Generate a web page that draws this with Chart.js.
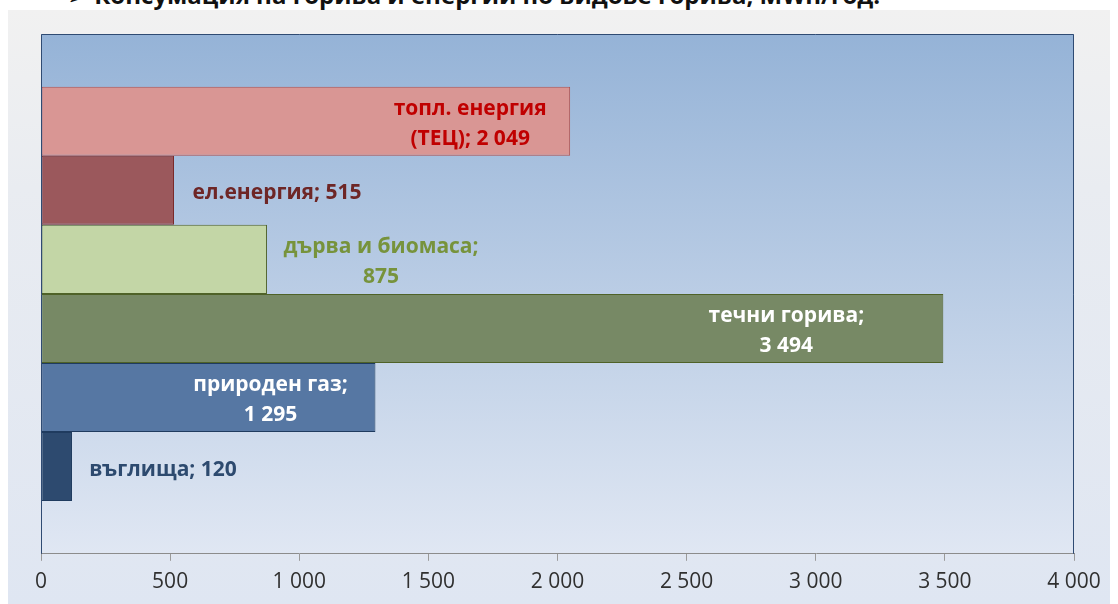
<!DOCTYPE html>
<html>
<head>
<meta charset="utf-8">
<script src="https://cdn.jsdelivr.net/npm/chart.js@4.4.1/dist/chart.umd.min.js"></script>
<style>
  html, body { margin: 0; padding: 0; background: #fff; width: 1118px; height: 604px; overflow: hidden; }
  #title {
    position: absolute; left: 68px; top: -22px; white-space: nowrap;
    font: bold 24px "Open Sans", "Noto Sans", sans-serif; color: #111;
  }
  #box {
    position: absolute; left: 8px; top: 10px; width: 1102px; height: 594px;
    background: linear-gradient(#f1f1f1 0%, #e9ecf1 30%, #dfe6f2 100%);
  }
</style>
</head>
<body>
<div id="title">➢&nbsp;Консумация на горива и енергии по видове горива, MWh/год.</div>
<div id="box"><canvas id="chart" width="1102" height="594"></canvas></div>
<script>
// Данни (MWh/год.)
const seriesNames = ['топл. енергия (ТЕЦ)', 'ел.енергия', 'дърва и биомаса', 'течни горива', 'природен газ', 'въглища'];
const seriesValues = [2049, 515, 875, 3494, 1295, 120];
// редове на етикетите (как са пренесени в оригинала)
const labelLines = [
  ['топл. енергия', '(ТЕЦ); {v}'],
  ['ел.енергия; {v}'],
  ['дърва и биомаса;', '{v}'],
  ['течни горива;', '{v}'],
  ['природен газ;', '{v}'],
  ['въглища; {v}']
];
const xTicks = [0, 500, 1000, 1500, 2000, 2500, 3000, 3500, 4000];

// стилове
const fills   = ['#d99694', '#9b585c', '#c3d6a6', '#778965', '#5677a3', '#2d4a6f'];
const borders = ['#b0504d', '#7a2a2a', '#4f6228', '#4f6228', '#1f3b5f', '#1f3b5f'];
const labelColors = ['#c00000', '#6e2626', '#77933c', '#ffffff', '#ffffff', '#2d4a6f'];
const labelDx = [-100, 103, 114, -157, -105, 91];   // център на етикета спрямо края на стълба

function fmt(v) {
  return String(v).replace(/\B(?=(\d{3})+(?!\d))/g, ' ');
}

const plotBg = {
  id: 'plotBg',
  beforeDraw(chart) {
    const { ctx, chartArea: a } = chart;
    const g = ctx.createLinearGradient(0, a.top, 0, a.bottom);
    g.addColorStop(0, '#95b3d7');
    g.addColorStop(1, '#e0e7f3');
    ctx.save();
    ctx.fillStyle = g;
    ctx.fillRect(a.left, a.top, a.right - a.left, a.bottom - a.top);
    ctx.restore();
  },
  afterDatasetsDraw(chart) {
    const { ctx, chartArea: a } = chart;
    ctx.save();
    ctx.strokeStyle = '#2f4b73';
    ctx.lineWidth = 1;
    ctx.beginPath();
    ctx.moveTo(a.left + 0.5, a.bottom);
    ctx.lineTo(a.left + 0.5, a.top + 0.5);
    ctx.lineTo(a.right - 0.5, a.top + 0.5);
    ctx.lineTo(a.right - 0.5, a.bottom);
    ctx.stroke();
    ctx.restore();
  }
};

const barLabels = {
  id: 'barLabels',
  afterDatasetsDraw(chart) {
    const ctx = chart.ctx;
    ctx.save();
    ctx.font = 'bold 21px "Open Sans", "Noto Sans", sans-serif';
    ctx.textAlign = 'center';
    ctx.textBaseline = 'middle';
    chart.data.datasets.forEach((ds, i) => {
      const bar = chart.getDatasetMeta(i).data[0];
      const lines = labelLines[i].map(s => s.replace('{v}', fmt(ds.data[0])));
      const lh = 30;
      const y0 = bar.y + 3 - (lines.length - 1) * lh / 2;
      ctx.fillStyle = labelColors[i];
      lines.forEach((t, k) => ctx.fillText(t, bar.x + labelDx[i], y0 + k * lh));
    });
    ctx.restore();
  }
};

new Chart(document.getElementById('chart'), {
  type: 'bar',
  data: {
    labels: [''],
    datasets: seriesNames.map((n, i) => ({
      label: n,
      data: [seriesValues[i]],
      backgroundColor: fills[i],
      borderColor: borders[i],
      borderWidth: 1,
      borderSkipped: false,
      categoryPercentage: 0.797,
      barPercentage: 1
    }))
  },
  options: {
    indexAxis: 'y',
    responsive: false,
    animation: false,
    layout: { padding: { left: 33, right: 36, top: 24, bottom: 0 } },
    plugins: { legend: { display: false }, tooltip: { enabled: false }, title: { display: false } },
    scales: {
      y: { display: false },
      x: {
        min: 0, max: 4000,
        afterBuildTicks(axis) { axis.ticks = xTicks.map(v => ({ value: v })); },
        grid: { drawOnChartArea: false, drawTicks: true, tickLength: 7, color: '#9a9a9a' },
        border: { display: true, color: '#8c8c8c' },
        ticks: {
          color: '#303030',
          font: { family: '"Open Sans", "Noto Sans", sans-serif', size: 21 },
          padding: 9,
          maxRotation: 0,
          callback: v => fmt(v)
        }
      }
    }
  },
  plugins: [plotBg, barLabels]
});
</script>
</body>
</html>
